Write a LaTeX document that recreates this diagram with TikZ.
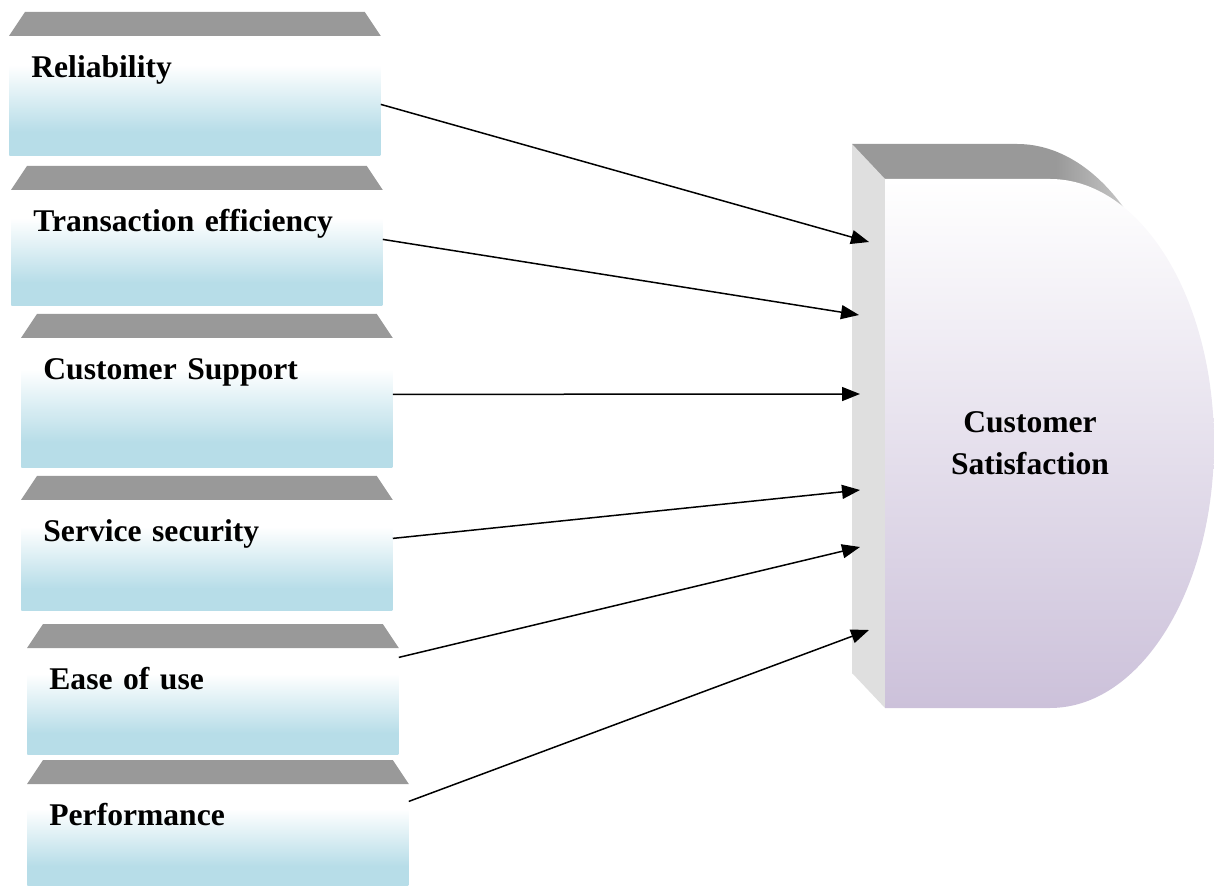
\documentclass[tikz,border=0pt]{standalone}
\usepackage{fontspec}
\setmainfont{Liberation Serif}
\usepackage{xcolor}
\usepackage{tikz}
\usetikzlibrary{arrows.meta}

\definecolor{boxblue}{RGB}{183,221,232}
\definecolor{lidgray}{RGB}{153,153,153}
\definecolor{lidlight}{RGB}{205,205,205}
\definecolor{sidegray}{RGB}{223,223,223}
\definecolor{lavender}{RGB}{204,193,218}

\pgfdeclareverticalshading{factorfill}{100bp}{color(0bp)=(boxblue); color(35bp)=(boxblue); color(63bp)=(white); color(100bp)=(white)}
\pgfdeclareverticalshading{goalfill}{100bp}{color(0bp)=(lavender); color(25bp)=(lavender); color(75bp)=(white); color(100bp)=(white)}
\pgfdeclarehorizontalshading{lidfill}{100bp}{color(0bp)=(lidgray); color(56bp)=(lidgray); color(68bp)=(lidlight); color(100bp)=(lidlight)}

\begin{document}
\begin{tikzpicture}[
x=0.5pt, y=-0.5pt,
factor/.style={shading=factorfill, anchor=north west, align=left, text width=163.5pt, inner xsep=11pt, inner ysep=0pt, text height=20.5pt, font=\bfseries\fontsize{15.8}{19}\selectfont},
lid/.style={fill=lidgray},
arr/.style={-{Triangle[length=9pt,width=7pt]}, line width=0.75pt}
]
\useasboundingbox (0,0) rectangle (1214,886);

% satisfaction block: lid, side and front face
\shade[shading=lidfill] (852,144) -- (1017,144) arc[start angle=-90, end angle=90, x radius=164, y radius=264.5] -- (852,673) -- cycle;
\fill[sidegray] (852,144) -- (885,179) -- (885,708) -- (852,673) -- cycle;
\shade[shading=goalfill] (885,179) -- (1050,179) arc[start angle=-90, end angle=90, x radius=164, y radius=264.5] -- (885,708) -- cycle;
\node[align=center, font=\bfseries\fontsize{15.8}{21}\selectfont] (goal) at (1030,443) {Customer\\Satisfaction};

\coordinate (in1) at (869,242);
\coordinate (in2) at (859,315);
\coordinate (in3) at (860,394);
\coordinate (in4) at (860,490);
\coordinate (in5) at (860,547);
\coordinate (in6) at (869,630);

% factors
\node[factor, text depth=39pt] (rel) at (9,36) {Reliability};
\node[factor, text depth=37pt] (tra) at (11,190) {Transaction efficiency};
\node[factor, text depth=44pt] (sup) at (21,338) {Customer Support};
\node[factor, text depth=34.5pt] (sec) at (21,500) {Service security};
\node[factor, text depth=32.5pt] (eas) at (27,648) {Ease of use};
\node[factor, text depth=30.5pt, text width=168.5pt] (per) at (27,784) {Performance};

\foreach \n in {rel,tra,sup,sec,eas,per}
  \fill[lid] (\n.north west) -- ++(16,-24) -- ([xshift=-8pt,yshift=12pt]\n.north east) -- (\n.north east) -- cycle;

\draw[arr] ([yshift=-4.25pt]rel.east) -- (in1);
\draw[arr] ([yshift=4.25pt]tra.east) -- (in2);
\draw[arr] ([yshift=4.25pt]sup.east) -- (in3);
\draw[arr] ([yshift=8.5pt]sec.east) -- (in4);
\draw[arr] ([yshift=22pt]eas.east) -- (in5);
\draw[arr] ([yshift=17pt]per.east) -- (in6);
\end{tikzpicture}
\end{document}
